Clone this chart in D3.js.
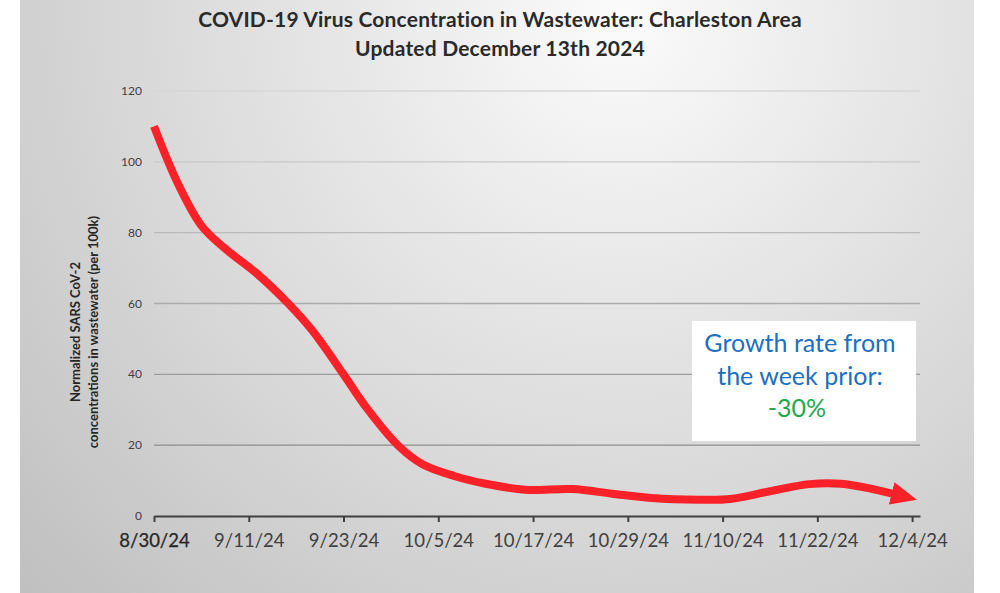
<!DOCTYPE html>
<html>
<head>
<meta charset="utf-8">
<script src="https://cdn.jsdelivr.net/npm/d3@7"></script>
<style>
  html, body { margin: 0; padding: 0; background: #ffffff; }
  svg { display: block; }
</style>
</head>
<body>
<svg id="chart" width="1000" height="593"></svg>
<script>
// ---- data ----
const titleLines = ["COVID-19 Virus Concentration in Wastewater: Charleston Area", "Updated December 13th 2024"];
const yTitleLines = ["Normalized SARS CoV-2", "concentrations in wastewater (per 100k)"];
const sampleDates = ["2024-08-30","2024-09-02","2024-09-05","2024-09-08","2024-09-12","2024-09-16","2024-09-19",
  "2024-09-23","2024-09-26","2024-09-30","2024-10-03","2024-10-07","2024-10-11","2024-10-16","2024-10-22",
  "2024-10-27","2024-11-01","2024-11-07","2024-11-11","2024-11-16","2024-11-21","2024-11-25","2024-11-29","2024-12-03"];
const concentration = [110, 94, 82, 75.5, 68.5, 60, 52.5, 40, 30.3, 19.7, 14.6, 11.3, 9.1, 7.4, 7.6,
  6.3, 5.1, 4.6, 4.8, 7.0, 9.0, 9.1, 7.6, 5.5];
const xTickLabels = ["8/30/24","9/11/24","9/23/24","10/5/24","10/17/24","10/29/24","11/10/24","11/22/24","12/4/24"];
const xTickDates = ["2024-08-30","2024-09-11","2024-09-23","2024-10-05","2024-10-17","2024-10-29","2024-11-10","2024-11-22","2024-12-04"];
const yTicks = [0, 20, 40, 60, 80, 100, 120];
const xDomain = ["2024-08-30", "2024-12-05"];
const noteLines = ["Growth rate from", "the week prior:"];
const noteValue = "-30%";

// ---- setup ----
const parse = d3.utcParse("%Y-%m-%d");
const data = sampleDates.map((d, i) => ({ date: parse(d), value: concentration[i] }));
const svg = d3.select("#chart");
const font = "Lato, 'Open Sans', sans-serif";

const x = d3.scaleUtc().domain(xDomain.map(parse)).range([154, 920]);
const y = d3.scaleLinear().domain([0, 120]).range([516, 91]);

const defs = svg.append("defs");
const grad = defs.append("radialGradient").attr("id", "bg")
  .attr("gradientUnits", "userSpaceOnUse")
  .attr("cx", 620).attr("cy", 20).attr("r", 820);
grad.append("stop").attr("offset", 0).attr("stop-color", "#fbfbfb");
grad.append("stop").attr("offset", 0.3).attr("stop-color", "#e9e9e9");
grad.append("stop").attr("offset", 0.65).attr("stop-color", "#d5d5d5");
grad.append("stop").attr("offset", 1).attr("stop-color", "#c0c0c0");

defs.append("marker").attr("id", "arrow")
  .attr("markerUnits", "userSpaceOnUse")
  .attr("viewBox", "0 0 26 23")
  .attr("markerWidth", 26).attr("markerHeight", 23)
  .attr("refX", 13).attr("refY", 11.5)
  .attr("orient", "auto")
  .append("path").attr("d", "M0,0 L26,11.5 L0,23 Z").attr("fill", "#fb2129");

// background panel
svg.append("rect").attr("x", 20).attr("y", 0).attr("width", 954).attr("height", 593).attr("fill", "url(#bg)");

// title
svg.append("g").selectAll("text").data(titleLines).join("text")
  .attr("x", 500).attr("y", (d, i) => 27 + i * 29)
  .attr("text-anchor", "middle")
  .attr("font-family", font).attr("font-weight", "bold").attr("font-size", 21)
  .attr("letter-spacing", 0.2)
  .attr("fill", "#2a2a2a").text(d => d);

// gridlines
const gridColor = d3.scaleLinear().domain([20, 120]).range(["#8e8e8e", "#d6d6d6"]);
svg.append("g").selectAll("line").data(yTicks.filter(v => v > 0)).join("line")
  .attr("x1", x.range()[0]).attr("x2", x.range()[1])
  .attr("y1", d => y(d)).attr("y2", d => y(d))
  .attr("stroke", d => gridColor(d)).attr("stroke-width", 1.3);

// y tick labels
svg.append("g").selectAll("text").data(yTicks).join("text")
  .attr("x", 142).attr("y", d => y(d) + 4)
  .attr("text-anchor", "end")
  .attr("font-family", font).attr("font-size", 12)
  .attr("fill", "#404040").text(d => d);

// y title
svg.append("g").selectAll("text").data(yTitleLines).join("text")
  .attr("transform", (d, i) => `translate(${80 + i * 18},332) rotate(-90)`)
  .attr("text-anchor", "middle")
  .attr("font-family", font).attr("font-weight", "bold").attr("font-size", 13)
  .attr("fill", "#262626").text(d => d);

// x axis
const xAxis = d3.axisBottom(x)
  .tickValues(xTickDates.map(parse))
  .tickSize(6).tickSizeOuter(0)
  .tickFormat((d, i) => xTickLabels[i]);
const gx = svg.append("g").attr("transform", `translate(0,${y(0)})`).call(xAxis);
gx.select(".domain").attr("stroke", "#404040").attr("stroke-width", 2);
gx.selectAll(".tick line").attr("stroke", "#404040").attr("stroke-width", 2);
gx.selectAll(".tick text")
  .attr("font-family", font).attr("font-size", 18.5)
  .attr("fill", (d, i) => i === 0 ? "#262626" : "#404040")
  .attr("stroke", (d, i) => i === 0 ? "#262626" : null)
  .attr("stroke-width", (d, i) => i === 0 ? 0.25 : null)
  .attr("y", 18);

// line
const line = d3.line().x(d => x(d.date)).y(d => y(d.value)).curve(d3.curveCatmullRom.alpha(0.5));
svg.append("path").datum(data)
  .attr("d", line)
  .attr("fill", "none")
  .attr("stroke", "#fb2129").attr("stroke-width", 8)
  .attr("stroke-linejoin", "round")
  .attr("marker-end", "url(#arrow)");

// annotation box
const note = svg.append("g");
note.append("rect").attr("x", 692).attr("y", 321).attr("width", 224).attr("height", 120).attr("fill", "#ffffff");
note.selectAll("text.l").data(noteLines).join("text").attr("class", "l")
  .attr("x", 800).attr("y", (d, i) => 352 + i * 32.5)
  .attr("text-anchor", "middle")
  .attr("font-family", font).attr("font-size", 25)
  .attr("fill", "#1c6fc1").text(d => d);
note.append("text")
  .attr("x", 797).attr("y", 417)
  .attr("text-anchor", "middle")
  .attr("font-family", font).attr("font-size", 25)
  .attr("fill", "#22a84c").text(noteValue);
</script>
</body>
</html>
